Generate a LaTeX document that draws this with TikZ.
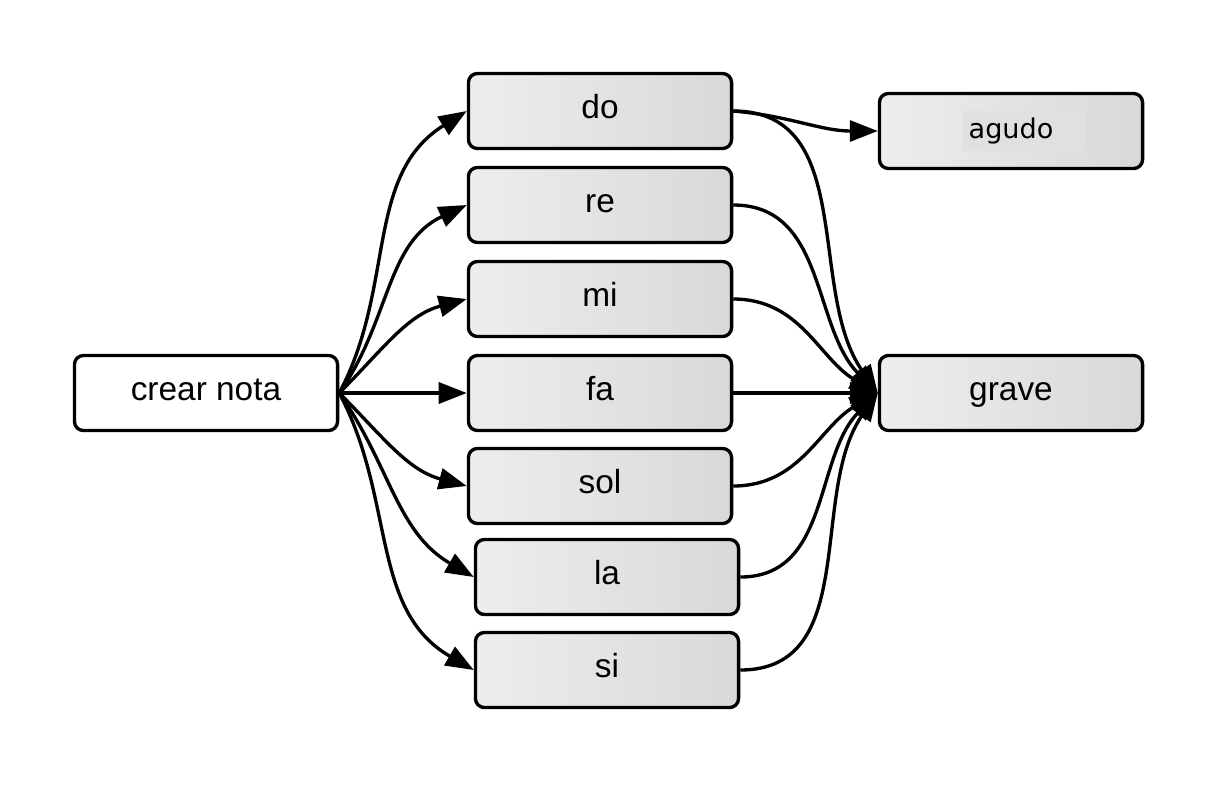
\documentclass[tikz,border=0pt]{standalone}
\usepackage{fontspec}
\setmainfont{Liberation Sans}
\newfontfamily\agudofont{DejaVu Sans}
\usetikzlibrary{arrows.meta}
\tikzset{
  caja/.style={draw,line width=0.95pt,rounded corners=0.9mm,minimum width=2.63cm,minimum height=0.75cm,text height=6.8pt,text depth=2.8pt,font=\fontsize{9.5pt}{11pt}\selectfont},
  notebox/.style={caja,left color=gray!14,right color=gray!30},
  flecha/.style={line width=0.95pt,-{Triangle[length=2.8mm,width=2.1mm]}}
}

\begin{document}
\begin{tikzpicture}[x=0.01cm,y=-0.01cm]
  \useasboundingbox (0,0) rectangle (1219,784);
  \node[caja,fill=white] (crear) at (206,393) {crear nota};
  \node[notebox] (do) at (600,111) {do};
  \node[notebox] (re) at (600,205) {re};
  \node[notebox] (mi) at (600,299) {mi};
  \node[notebox] (fa) at (600,393) {fa};
  \node[notebox] (sol) at (600,486) {sol};
  \node[notebox] (la) at (607,577) {la};
  \node[notebox] (si) at (607,670) {si};
  \node[notebox,text height=,text depth=] (agudo) at (1011,131) {\agudofont\fontsize{7.7pt}{9pt}\selectfont\setlength\fboxsep{2pt}\hspace*{2.6mm}\colorbox{gray!24}{agudo\hspace*{2.6mm}}};
  \node[notebox] (grave) at (1011,393) {grave};
  % crear nota -> notas
  \draw[flecha] (crear.east) to[out=62,in=212] (do.west);
  \draw[flecha] (crear.east) to[out=55,in=205] (re.west);
  \draw[flecha] (crear.east) to[out=45,in=195] (mi.west);
  \draw[flecha] (crear.east) -- (fa.west);
  \draw[flecha] (crear.east) to[out=-45,in=165] (sol.west);
  \draw[flecha] (crear.east) to[out=-55,in=150] (la.west);
  \draw[flecha] (crear.east) to[out=-62,in=150] (si.west);
  % notas -> grave / agudo
  \draw[flecha] (do.east) to[out=-5,in=180] (agudo.west);
  \draw[flecha] (do.east) to[out=0,in=125] (grave.west);
  \draw[flecha] (re.east) to[out=0,in=135] (grave.west);
  \draw[flecha] (mi.east) to[out=0,in=150] (grave.west);
  \draw[flecha] (fa.east) -- (grave.west);
  \draw[flecha] (sol.east) to[out=0,in=210] (grave.west);
  \draw[flecha] (la.east) to[out=0,in=225] (grave.west);
  \draw[flecha] (si.east) to[out=0,in=235] (grave.west);
\end{tikzpicture}
\end{document}
